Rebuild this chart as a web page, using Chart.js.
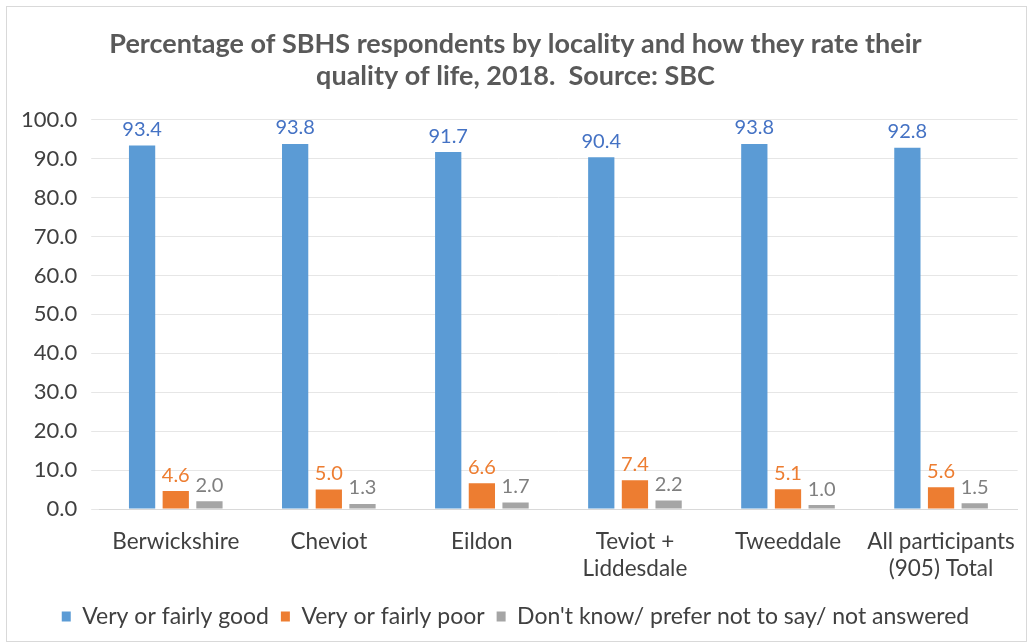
<!DOCTYPE html>
<html>
<head>
<meta charset="utf-8">
<script src="https://cdn.jsdelivr.net/npm/chart.js@4"></script>
<style>
    html, body { margin: 0; padding: 0; background: #fff; }
    #wrap { position: absolute; left: 6px; top: 6px; width: 1021px; height: 636px; border: 1px solid #d9d9d9; box-sizing: border-box; }
</style>
</head>
<body>
<div id="wrap"><canvas id="chart"></canvas></div>
<script>
const categories = ['Berwickshire', 'Cheviot', 'Eildon', ['Teviot +', 'Liddesdale'], 'Tweeddale', ['All participants', '(905) Total']];
const goodValues = [93.4, 93.8, 91.7, 90.4, 93.8, 92.8];
const poorValues = [4.6, 5.0, 6.6, 7.4, 5.1, 5.6];
const unknownValues = [2.0, 1.3, 1.7, 2.2, 1.0, 1.5];

// draw the value above each bar
const valueLabels = {
    id: 'valueLabels',
    afterDatasetsDraw(chart) {
        const ctx = chart.ctx;
        ctx.save();
        ctx.font = '20px Lato, "Open Sans", sans-serif';
        ctx.textAlign = 'center';
        ctx.textBaseline = 'bottom';
        chart.data.datasets.forEach((ds, i) => {
            const meta = chart.getDatasetMeta(i);
            ctx.fillStyle = ds.labelColor;
            meta.data.forEach((bar, j) => {
                ctx.fillText(ds.data[j].toFixed(1), bar.x, bar.y - 6);
            });
        });
        ctx.restore();
    }
};

Chart.defaults.font.family = 'Lato, "Open Sans", sans-serif';
Chart.defaults.color = '#595959';

new Chart(document.getElementById('chart'), {
    type: 'bar',
    data: {
        labels: categories,
        datasets: [
            { label: 'Very or fairly good', data: goodValues, backgroundColor: '#5b9bd5', labelColor: '#4472c4' },
            { label: 'Very or fairly poor', data: poorValues, backgroundColor: '#ed7d31', labelColor: '#ed7d31' },
            { label: "Don't know/ prefer not to say/ not answered", data: unknownValues, backgroundColor: '#a5a5a5', labelColor: '#7f7f7f' }
        ]
    },
    options: {
        responsive: true,
        maintainAspectRatio: false,
        animation: false,
        datasets: { bar: { categoryPercentage: 0.66, barPercentage: 0.78 } },
        layout: { padding: { left: 0, right: 2, top: 2, bottom: 3 } },
        scales: {
            x: {
                grid: { display: false },
                border: { color: '#d9d9d9' },
                ticks: { font: { size: 22.5, lineHeight: 1.2 }, color: '#404040', maxRotation: 0, autoSkip: false, padding: 11 }
            },
            y: {
                min: 0,
                max: 100,
                ticks: { stepSize: 10, font: { size: 22 }, color: '#404040', padding: 14, callback: v => v.toFixed(1) },
                grid: { color: '#e6e6e6' },
                border: { display: false }
            }
        },
        plugins: {
            title: {
                display: true,
                text: ['Percentage of SBHS respondents by locality and how they rate their', 'quality of life, 2018.  Source: SBC'],
                font: { size: 27, weight: 'bold' },
                color: '#595959',
                padding: { top: 19, bottom: 27 },
                lineHeight: 1.2
            },
            legend: {
                position: 'bottom',
                labels: { boxWidth: 9, boxHeight: 10, font: { size: 23 }, color: '#404040', padding: 12 }
            },
            tooltip: { enabled: false }
        }
    },
    plugins: [valueLabels]
});
</script>
</body>
</html>
